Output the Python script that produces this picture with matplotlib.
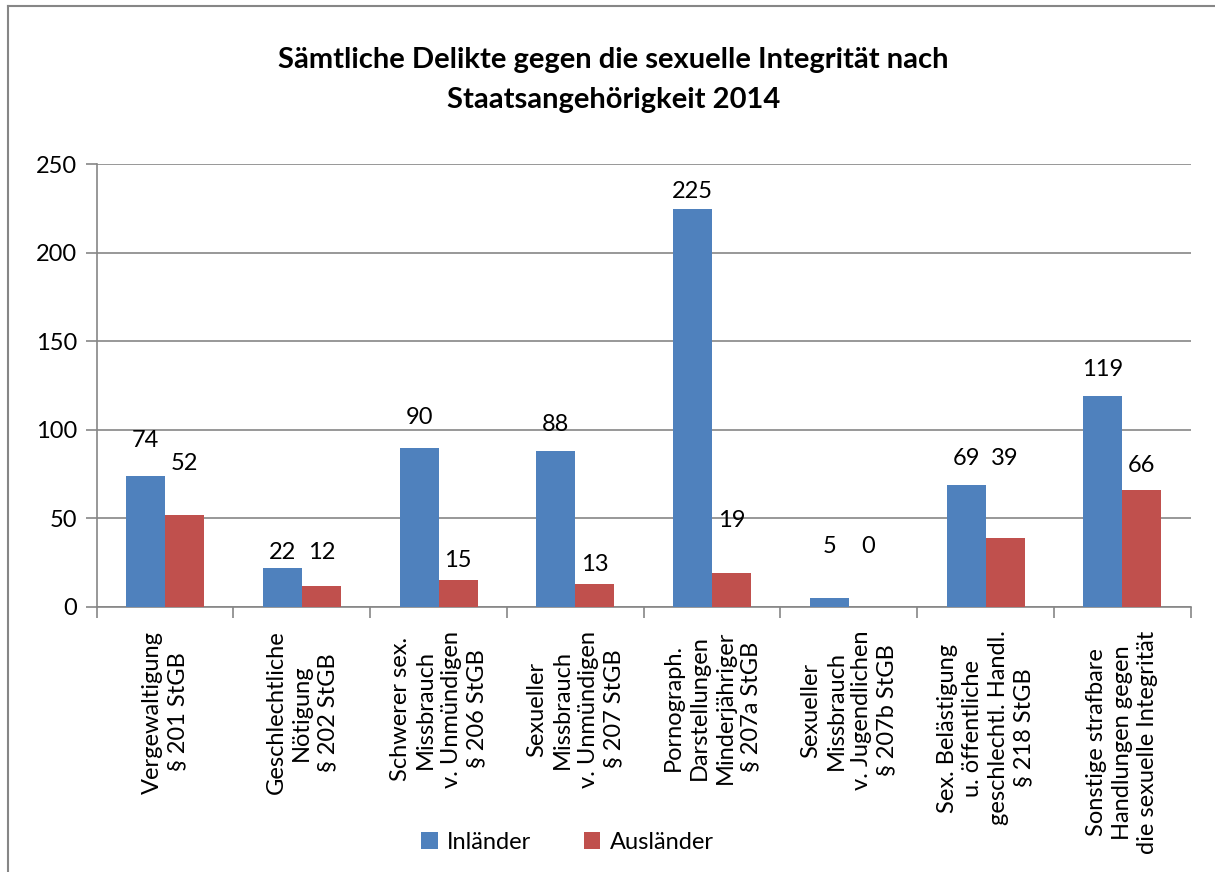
import matplotlib.pyplot as plt
from matplotlib.lines import Line2D
import numpy as np

plt.rcParams['font.family'] = ['Lato', 'DejaVu Sans']

# Kategorien (Delikte)
kategorien = [
    "Vergewaltigung\n§ 201 StGB",
    "Geschlechtliche\nNötigung\n§ 202 StGB",
    "Schwerer sex.\nMissbrauch\nv. Unmündigen\n§ 206 StGB",
    "Sexueller\nMissbrauch\nv. Unmündigen\n§ 207 StGB",
    "Pornograph.\nDarstellungen\nMinderjähriger\n§ 207a StGB",
    "Sexueller\nMissbrauch\nv. Jugendlichen\n§ 207b StGB",
    "Sex. Belästigung\nu. öffentliche\ngeschlechtl. Handl.\n§ 218 StGB",
    "Sonstige strafbare\nHandlungen gegen\ndie sexuelle Integrität",
]
inlaender = [74, 22, 90, 88, 225, 5, 69, 119]
auslaender = [52, 12, 15, 13, 19, 0, 39, 66]
yticks = [0, 50, 100, 150, 200, 250]

# Höhe der Datenbeschriftungen (wie im Original manuell verschoben)
label_y_in = [94, 31, 107, 103, 235, 34, 84, 134]
label_y_aus = [81, 31, 26, 24, 49, 34, 84, 80]

blau = '#4F81BD'
rot = '#C0504D'
grau = '#868686'

fig = plt.figure(figsize=(12.15, 8.72), dpi=100)
ax = fig.add_axes([0.0796, 0.3039, 0.9004, 0.5075])

x = np.arange(len(kategorien))
w = 0.285
b1 = ax.bar(x - w/2, inlaender, w, color=blau, label='Inländer', zorder=3)
b2 = ax.bar(x + w/2, auslaender, w, color=rot, label='Ausländer', zorder=3)

# Datenbeschriftungen
for i in range(len(x)):
    ax.text(x[i] - w/2, label_y_in[i], str(inlaender[i]), ha='center', va='center', fontsize=17)
    ax.text(x[i] + w/2, label_y_aus[i], str(auslaender[i]), ha='center', va='center', fontsize=17)

ax.set_xlim(-0.5, len(x) - 0.5)
ax.set_ylim(0, 250)
ax.set_yticks(yticks)
ax.yaxis.grid(True, color=grau, lw=1.2, zorder=0)
ax.tick_params(axis='y', length=8, width=1.2, color=grau, labelsize=17, pad=6)

ax.set_xticks(x)
ax.set_xticklabels(kategorien, rotation=90, ha='center', va='top', multialignment='center',
                   fontsize=17, linespacing=1.27)
ax.set_xticks(np.arange(-0.5, len(x)), minor=True)
ax.tick_params(axis='x', which='major', length=0, pad=17)
ax.tick_params(axis='x', which='minor', length=8, width=1.2, color=grau, direction='out')

for s in ['top', 'right']:
    ax.spines[s].set_visible(False)
for s in ['left', 'bottom']:
    ax.spines[s].set_color(grau)
    ax.spines[s].set_linewidth(1.2)

fig.text(0.505, 1 - 60/872, 'Sämtliche Delikte gegen die sexuelle Integrität nach',
         ha='center', va='center', fontsize=21, fontweight='bold')
fig.text(0.505, 1 - 100/872, 'Staatsangehörigkeit 2014',
         ha='center', va='center', fontsize=21, fontweight='bold')

fig.legend(handles=[b1, b2], loc='center', bbox_to_anchor=(0.467, 1 - 842/872), ncol=2,
           frameon=False, fontsize=17, handlelength=0.7, handleheight=0.7,
           handletextpad=0.4, columnspacing=2.2)

# Rahmen links und oben
fig.add_artist(Line2D([8/1215, 8/1215], [0, 1 - 6/872], transform=fig.transFigure, color=grau, lw=1.5))
fig.add_artist(Line2D([8/1215, 1], [1 - 6/872, 1 - 6/872], transform=fig.transFigure, color=grau, lw=1.5))

plt.savefig('out.png', dpi=100)
